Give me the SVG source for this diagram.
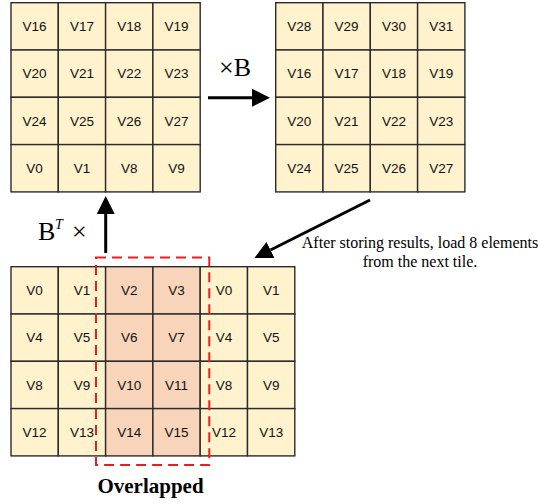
<svg xmlns="http://www.w3.org/2000/svg" width="538" height="504" viewBox="0 0 538 504">
<defs>
<style>
.c{fill:#FFF2CC;stroke:#2b2b2b;stroke-width:1.4}
.s{fill:#F8D5BA;stroke:#2b2b2b;stroke-width:1.4}
.t{font-family:"Liberation Sans",Arial,sans-serif;font-size:13.5px;fill:#111;text-anchor:middle}
.m{font-family:"Liberation Serif","Times New Roman",serif;fill:#000}
.a{stroke:#000;stroke-width:3;fill:none}
</style>
<marker id="ah" markerWidth="6" markerHeight="6" refX="0" refY="3" orient="auto" markerUnits="strokeWidth"><path d="M0,0 L6,3 L0,6 Z" fill="#000"/></marker>
</defs>
<g id="tile-left">
<rect class="c" x="11" y="2.7" width="47.3" height="47.3"/><rect class="c" x="58.3" y="2.7" width="47.3" height="47.3"/><rect class="c" x="105.6" y="2.7" width="47.3" height="47.3"/><rect class="c" x="152.9" y="2.7" width="47.3" height="47.3"/>
<rect class="c" x="11" y="50" width="47.3" height="47.3"/><rect class="c" x="58.3" y="50" width="47.3" height="47.3"/><rect class="c" x="105.6" y="50" width="47.3" height="47.3"/><rect class="c" x="152.9" y="50" width="47.3" height="47.3"/>
<rect class="c" x="11" y="97.3" width="47.3" height="47.3"/><rect class="c" x="58.3" y="97.3" width="47.3" height="47.3"/><rect class="c" x="105.6" y="97.3" width="47.3" height="47.3"/><rect class="c" x="152.9" y="97.3" width="47.3" height="47.3"/>
<rect class="c" x="11" y="144.6" width="47.3" height="47.3"/><rect class="c" x="58.3" y="144.6" width="47.3" height="47.3"/><rect class="c" x="105.6" y="144.6" width="47.3" height="47.3"/><rect class="c" x="152.9" y="144.6" width="47.3" height="47.3"/>
<text class="t" x="34.6" y="31">V16</text><text class="t" x="82" y="31">V17</text><text class="t" x="129.3" y="31">V18</text><text class="t" x="176.6" y="31">V19</text>
<text class="t" x="34.6" y="78.3">V20</text><text class="t" x="82" y="78.3">V21</text><text class="t" x="129.3" y="78.3">V22</text><text class="t" x="176.6" y="78.3">V23</text>
<text class="t" x="34.6" y="125.6">V24</text><text class="t" x="82" y="125.6">V25</text><text class="t" x="129.3" y="125.6">V26</text><text class="t" x="176.6" y="125.6">V27</text>
<text class="t" x="34.6" y="172.9">V0</text><text class="t" x="82" y="172.9">V1</text><text class="t" x="129.3" y="172.9">V8</text><text class="t" x="176.6" y="172.9">V9</text>
</g>
<g id="tile-right">
<rect class="c" x="275.7" y="2.7" width="47.3" height="47.3"/><rect class="c" x="323" y="2.7" width="47.3" height="47.3"/><rect class="c" x="370.3" y="2.7" width="47.3" height="47.3"/><rect class="c" x="417.6" y="2.7" width="47.3" height="47.3"/>
<rect class="c" x="275.7" y="50" width="47.3" height="47.3"/><rect class="c" x="323" y="50" width="47.3" height="47.3"/><rect class="c" x="370.3" y="50" width="47.3" height="47.3"/><rect class="c" x="417.6" y="50" width="47.3" height="47.3"/>
<rect class="c" x="275.7" y="97.3" width="47.3" height="47.3"/><rect class="c" x="323" y="97.3" width="47.3" height="47.3"/><rect class="c" x="370.3" y="97.3" width="47.3" height="47.3"/><rect class="c" x="417.6" y="97.3" width="47.3" height="47.3"/>
<rect class="c" x="275.7" y="144.6" width="47.3" height="47.3"/><rect class="c" x="323" y="144.6" width="47.3" height="47.3"/><rect class="c" x="370.3" y="144.6" width="47.3" height="47.3"/><rect class="c" x="417.6" y="144.6" width="47.3" height="47.3"/>
<text class="t" x="299.3" y="31">V28</text><text class="t" x="346.6" y="31">V29</text><text class="t" x="394" y="31">V30</text><text class="t" x="441.3" y="31">V31</text>
<text class="t" x="299.3" y="78.3">V16</text><text class="t" x="346.6" y="78.3">V17</text><text class="t" x="394" y="78.3">V18</text><text class="t" x="441.3" y="78.3">V19</text>
<text class="t" x="299.3" y="125.6">V20</text><text class="t" x="346.6" y="125.6">V21</text><text class="t" x="394" y="125.6">V22</text><text class="t" x="441.3" y="125.6">V23</text>
<text class="t" x="299.3" y="172.9">V24</text><text class="t" x="346.6" y="172.9">V25</text><text class="t" x="394" y="172.9">V26</text><text class="t" x="441.3" y="172.9">V27</text>
</g>
<g id="tile-bottom">
<rect class="c" x="11" y="266.7" width="47.3" height="47.3"/><rect class="c" x="58.3" y="266.7" width="47.3" height="47.3"/><rect class="s" x="105.6" y="266.7" width="47.3" height="47.3"/><rect class="s" x="152.9" y="266.7" width="47.3" height="47.3"/><rect class="c" x="200.2" y="266.7" width="47.3" height="47.3"/><rect class="c" x="247.5" y="266.7" width="47.3" height="47.3"/>
<rect class="c" x="11" y="314" width="47.3" height="47.3"/><rect class="c" x="58.3" y="314" width="47.3" height="47.3"/><rect class="s" x="105.6" y="314" width="47.3" height="47.3"/><rect class="s" x="152.9" y="314" width="47.3" height="47.3"/><rect class="c" x="200.2" y="314" width="47.3" height="47.3"/><rect class="c" x="247.5" y="314" width="47.3" height="47.3"/>
<rect class="c" x="11" y="361.3" width="47.3" height="47.3"/><rect class="c" x="58.3" y="361.3" width="47.3" height="47.3"/><rect class="s" x="105.6" y="361.3" width="47.3" height="47.3"/><rect class="s" x="152.9" y="361.3" width="47.3" height="47.3"/><rect class="c" x="200.2" y="361.3" width="47.3" height="47.3"/><rect class="c" x="247.5" y="361.3" width="47.3" height="47.3"/>
<rect class="c" x="11" y="408.6" width="47.3" height="47.3"/><rect class="c" x="58.3" y="408.6" width="47.3" height="47.3"/><rect class="s" x="105.6" y="408.6" width="47.3" height="47.3"/><rect class="s" x="152.9" y="408.6" width="47.3" height="47.3"/><rect class="c" x="200.2" y="408.6" width="47.3" height="47.3"/><rect class="c" x="247.5" y="408.6" width="47.3" height="47.3"/>
<text class="t" x="34.6" y="295">V0</text><text class="t" x="82" y="295">V1</text><text class="t" x="129.3" y="295">V2</text><text class="t" x="176.6" y="295">V3</text><text class="t" x="223.9" y="295">V0</text><text class="t" x="271.2" y="295">V1</text>
<text class="t" x="34.6" y="342.3">V4</text><text class="t" x="82" y="342.3">V5</text><text class="t" x="129.3" y="342.3">V6</text><text class="t" x="176.6" y="342.3">V7</text><text class="t" x="223.9" y="342.3">V4</text><text class="t" x="271.2" y="342.3">V5</text>
<text class="t" x="34.6" y="389.6">V8</text><text class="t" x="82" y="389.6">V9</text><text class="t" x="129.3" y="389.6">V10</text><text class="t" x="176.6" y="389.6">V11</text><text class="t" x="223.9" y="389.6">V8</text><text class="t" x="271.2" y="389.6">V9</text>
<text class="t" x="34.6" y="436.9">V12</text><text class="t" x="82" y="436.9">V13</text><text class="t" x="129.3" y="436.9">V14</text><text class="t" x="176.6" y="436.9">V15</text><text class="t" x="223.9" y="436.9">V12</text><text class="t" x="271.2" y="436.9">V13</text>
</g>
<g id="overlap">
<rect x="96" y="257.5" width="113.3" height="207.5" fill="none" stroke="#EE1C1C" stroke-width="2" stroke-dasharray="10,6"/>
<text class="m" x="150.5" y="493" font-size="21" font-weight="bold" text-anchor="middle">Overlapped</text>
</g>
<g id="connectors">
<line class="a" x1="208" y1="97.7" x2="252" y2="97.7" marker-end="url(#ah)"/>
<line class="a" x1="105.7" y1="253" x2="105.7" y2="214" marker-end="url(#ah)"/>
<line class="a" x1="370" y1="200" x2="270.5" y2="250" marker-end="url(#ah)"/>
</g>
<g id="labels">
<text class="m" x="219" y="76" font-size="26">×B</text>
<text class="m" x="38" y="240" font-size="26">B</text>
<text class="m" x="55" y="229" font-size="14" font-style="italic">T</text>
<text class="m" x="72" y="240" font-size="26">×</text>
<text class="m" x="420" y="248" font-size="16" text-anchor="middle">After storing results, load 8 elements</text>
<text class="m" x="420" y="267" font-size="16" text-anchor="middle">from the next tile.</text>
</g>
</svg>
